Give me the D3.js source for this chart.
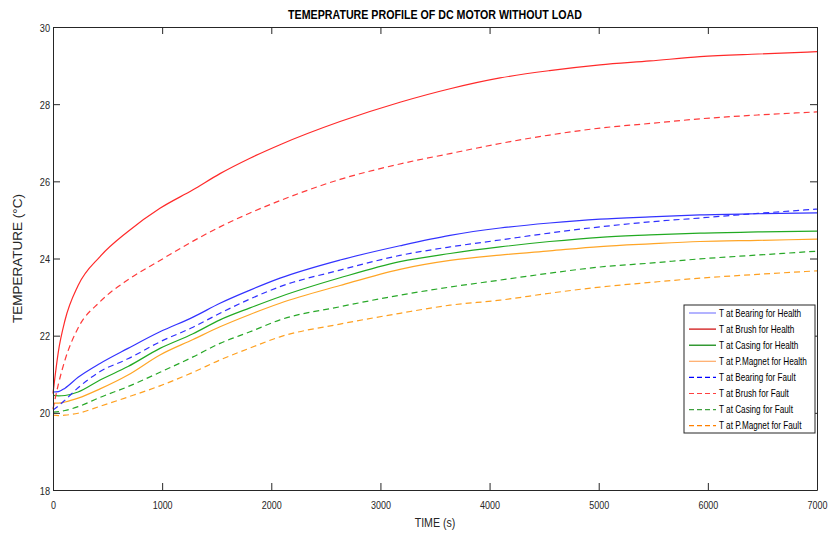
<!DOCTYPE html>
<html><head><meta charset="utf-8">
<script src="https://cdn.jsdelivr.net/npm/d3@7"></script>
<style>
body{margin:0;background:#fff;}
svg{display:block;}
text{font-family:"Liberation Sans",Arial,sans-serif;}
</style></head><body>
<svg id="chart" width="829" height="535"></svg>
<script>
const title = "TEMEPRATURE PROFILE OF DC MOTOR WITHOUT LOAD";
const xLabel = "TIME (s)";
const yLabel = "TEMPERATURE (°C)";
const xTicks = [0,1000,2000,3000,4000,5000,6000,7000];
const yTicks = [18,20,22,24,26,28,30];
const time = [0,50,110,230,431,687,980,1283,1530,1805,2080,2630,3179,3638,4096,4550,5012,5470,5928,6460,7000];
const bearingHealth = [20.54,20.55,20.64,20.92,21.28,21.67,22.10,22.48,22.84,23.18,23.49,23.96,24.33,24.6,24.79,24.92,25.02,25.08,25.13,25.16,25.18];
const brushHealth   = [20.5,21.6,22.4,23.3,24.05,24.7,25.3,25.78,26.2,26.6,26.95,27.55,28.05,28.4,28.68,28.87,29.02,29.12,29.23,29.3,29.36];
const casingHealth  = [20.45,20.44,20.45,20.54,20.85,21.2,21.67,22.05,22.41,22.72,23.01,23.5,23.92,24.13,24.3,24.44,24.55,24.61,24.66,24.69,24.71];
const magnetHealth  = [20.25,20.25,20.28,20.38,20.62,20.98,21.5,21.9,22.23,22.55,22.84,23.3,23.72,23.95,24.09,24.2,24.31,24.38,24.44,24.47,24.5];
const bearingFault  = [20.07,20.18,20.33,20.65,21.07,21.4,21.84,22.22,22.58,22.95,23.27,23.7,24.08,24.3,24.48,24.66,24.82,24.95,25.05,25.17,25.28];
const brushFault    = [20.1,20.75,21.37,22.2,22.88,23.45,23.95,24.45,24.82,25.18,25.5,26.05,26.45,26.72,26.98,27.2,27.38,27.5,27.62,27.72,27.8];
const casingFault   = [20.02,20.03,20.06,20.16,20.4,20.68,21.05,21.45,21.8,22.1,22.41,22.75,23.05,23.26,23.44,23.62,23.78,23.88,23.99,24.09,24.19];
const magnetFault   = [19.94,19.93,19.94,19.99,20.17,20.41,20.7,21.05,21.37,21.68,21.97,22.3,22.58,22.79,22.92,23.1,23.26,23.38,23.49,23.59,23.68];
const seriesNames = ["T at Bearing for Health","T at Brush for Health","T at Casing for Health","T at P.Magnet for Health",
  "T at Bearing for Fault","T at Brush for Fault","T at Casing for Fault","T at P.Magnet for Fault"];
const seriesValues = [bearingHealth,brushHealth,casingHealth,magnetHealth,bearingFault,brushFault,casingFault,magnetFault];
const lineColors = ["#3333ff","#ff2a2a","#22aa22","#ffa526","#3030ff","#ff3a3a","#28a828","#ffa020"];
const legendColors = ["#8080ff","#cc0000","#008000","#ffaa66","#0000ff","#ff4040","#40a040","#ff8000"];
const dashed = [false,false,false,false,true,true,true,true];

const svg = d3.select("#chart");
const W = 829, H = 535;
const m = {l:53, r:W-817, t:27, b:H-490};
const x = d3.scaleLinear().domain([0,7000]).range([m.l, W-m.r]);
const y = d3.scaleLinear().domain([18,30]).range([H-m.b, m.t]);

// horizontal condensing via transform so bounding boxes stay true
function squeeze(sel, f){
  sel.each(function(){
    const x0 = +(this.getAttribute("x") || 0);
    d3.select(this).attr("transform", `translate(${x0},0) scale(${f},1) translate(${-x0},0)`);
  });
}

const line = d3.line().x((d,i)=>x(time[i])).y(d=>y(d)).curve(d3.curveMonotoneX);
const g = svg.append("g");
seriesValues.forEach((vals,k)=>{
  g.append("path").attr("d", line(vals)).attr("fill","none")
   .attr("stroke", lineColors[k]).attr("stroke-width",1.2)
   .attr("stroke-dasharray", dashed[k] ? "6,4" : null);
});

const axisColor = "#262626";
const xb = svg.append("g").attr("transform",`translate(0,${y(18)})`)
  .call(d3.axisBottom(x).tickValues(xTicks).tickSizeInner(-7).tickSizeOuter(0).tickPadding(11).tickFormat(d3.format("d")));
const xt = svg.append("g").attr("transform",`translate(0,${y(30)})`)
  .call(d3.axisTop(x).tickValues(xTicks).tickSizeInner(-7).tickSizeOuter(0).tickFormat(""));
const yl = svg.append("g").attr("transform",`translate(${x(0)},0)`)
  .call(d3.axisLeft(y).tickValues(yTicks).tickSizeInner(-7).tickSizeOuter(0).tickPadding(3));
const yr = svg.append("g").attr("transform",`translate(${x(7000)},0)`)
  .call(d3.axisRight(y).tickValues(yTicks).tickSizeInner(-7).tickSizeOuter(0).tickFormat(""));
[xb,xt,yl,yr].forEach(a=>{
  a.selectAll("path.domain").attr("stroke",axisColor).attr("stroke-width",1);
  a.selectAll("line").attr("stroke",axisColor);
  a.selectAll("text").attr("font-family","Liberation Sans, Arial, sans-serif").attr("font-size",11.5).attr("fill",axisColor);
});
yl.selectAll("text").attr("dy","0.35em");
squeeze(xb.selectAll("text"),0.78);
squeeze(yl.selectAll("text"),0.8);

const t1 = svg.append("text").attr("x",(x(0)+x(7000))/2).attr("y",19)
  .attr("text-anchor","middle").attr("font-size",13.5).attr("font-weight","bold").attr("fill","#000").text(title);
squeeze(t1, 294/t1.node().getComputedTextLength());
const t2 = svg.append("text").attr("x",(x(0)+x(7000))/2).attr("y",527)
  .attr("text-anchor","middle").attr("font-size",12.5).attr("fill",axisColor).text(xLabel);
squeeze(t2,0.85);
svg.append("text").attr("transform",`translate(22,${(y(18)+y(30))/2}) rotate(-90)`)
  .attr("text-anchor","middle").attr("font-size",13.5).attr("fill",axisColor).text(yLabel);

const lg = svg.append("g");
const lx = 684, ly = 305, lw = 131, lh = 128;
lg.append("rect").attr("x",lx).attr("y",ly).attr("width",lw).attr("height",lh)
  .attr("fill","#fff").attr("stroke","#262626").attr("stroke-width",1);
seriesNames.forEach((n,k)=>{
  const yy = ly + 8 + k*16.1;
  lg.append("line").attr("x1",lx+5).attr("x2",lx+32).attr("y1",yy).attr("y2",yy)
    .attr("stroke",legendColors[k]).attr("stroke-width",1.2).attr("stroke-dasharray",dashed[k]?"5,3":null);
  const tx = lg.append("text").attr("x",lx+35).attr("y",yy).attr("dy","0.35em")
    .attr("font-size",10.5).attr("fill","#000").text(n);
  squeeze(tx,0.78);
});
</script></body></html>
